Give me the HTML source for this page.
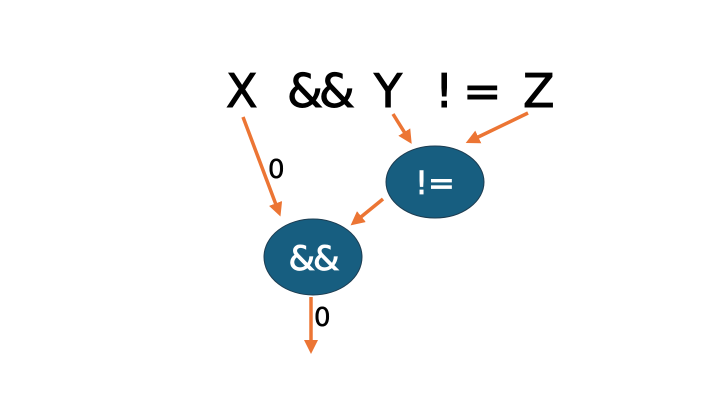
<!DOCTYPE html>
<html><head><style>body{margin:0;background:#fff}</style></head><body>
<svg width="720" height="405" viewBox="0 0 720 405" xmlns="http://www.w3.org/2000/svg" font-family="'DejaVu Sans','Liberation Sans',sans-serif">
<defs><marker id="a" markerWidth="4" markerHeight="4" refX="2" refY="2" orient="auto" markerUnits="strokeWidth"><path d="M0,0 L4,2 L0,4 z" fill="#ec7534"/></marker></defs>
<g font-size="46" fill="#000" stroke="#000" stroke-width="1">
<text x="226" y="107">X</text>
<text x="287" y="107" letter-spacing="-4">&amp;&amp;</text>
<text x="374" y="107">Y</text>
<text x="435" y="107">!</text>
<text x="463" y="107">=</text>
<text x="523" y="107">Z</text>
</g>
<g stroke="#ec7534" stroke-width="3.5" fill="none" marker-end="url(#a)">
<line x1="243" y1="117" x2="278" y2="210"/>
<line x1="393" y1="114" x2="408" y2="138"/>
<line x1="528" y1="113" x2="472" y2="140"/>
<line x1="383" y1="199" x2="356" y2="221"/>
<line x1="311" y1="297" x2="311" y2="347"/>
</g>
<ellipse cx="435" cy="182" rx="49" ry="36" fill="#175e80" stroke="#1d3d52" stroke-width="1"/>
<ellipse cx="313" cy="257" rx="49" ry="38" fill="#175e80" stroke="#1d3d52" stroke-width="1"/>
<text x="435" y="194" font-size="32" fill="#fff" stroke="#fff" stroke-width="0.8" text-anchor="middle">!=</text>
<text x="313" y="270" font-size="34" fill="#fff" stroke="#fff" stroke-width="0.8" text-anchor="middle" letter-spacing="-2">&amp;&amp;</text>
<g font-size="26" fill="#000" stroke="#000" stroke-width="0.5">
<text x="268" y="178">0</text>
<text x="314" y="326">0</text>
</g>
</svg>
</body></html>
